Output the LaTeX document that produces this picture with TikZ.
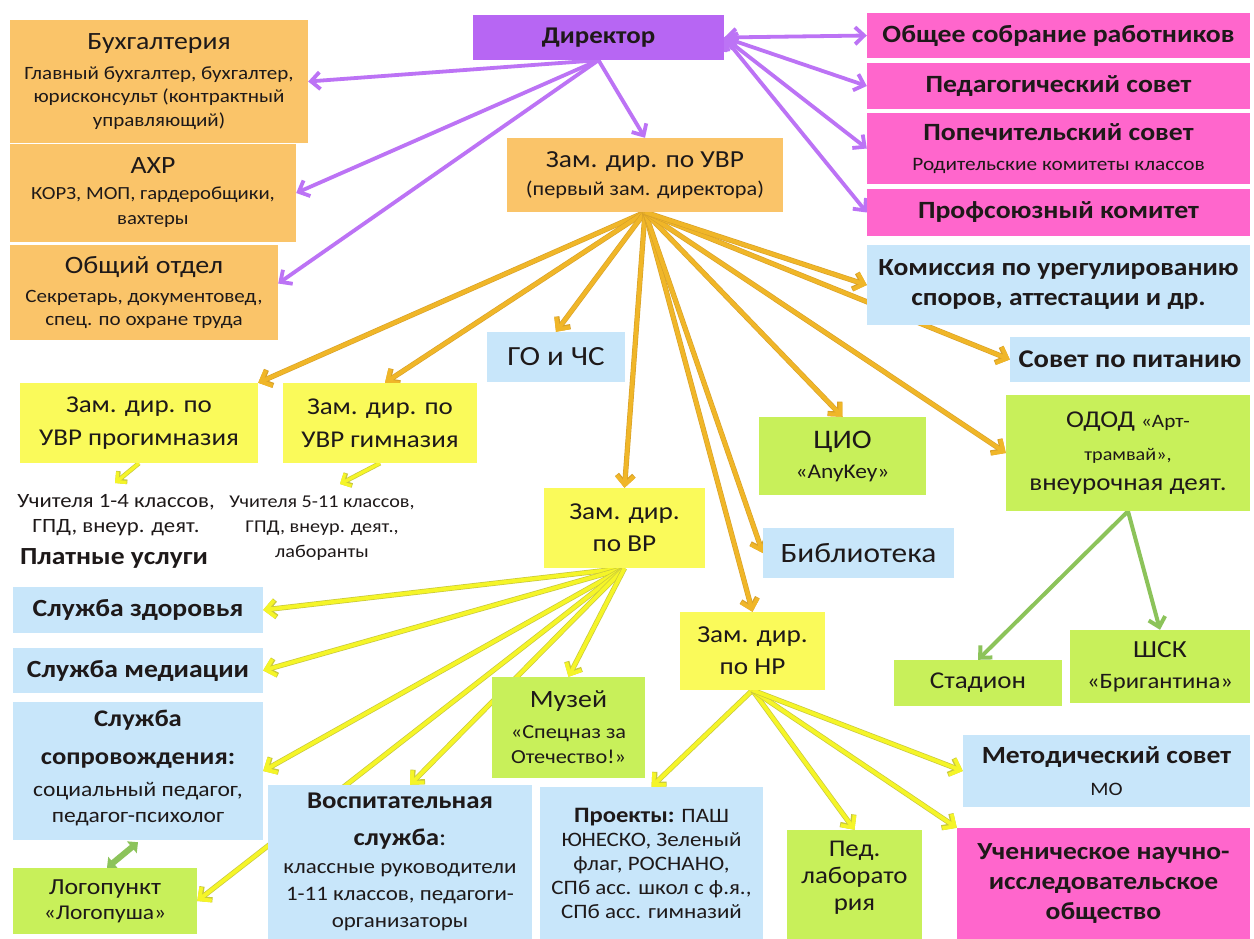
\documentclass[tikz,border=0pt]{standalone}
\usepackage{fontspec}
\setmainfont{Carlito}[FakeStretch=1.12]
\usetikzlibrary{arrows.meta,calc}
\pgfdeclarelayer{bg}
\pgfsetlayers{bg,main}
\definecolor{cPur}{RGB}{183,102,243}
\definecolor{cPurA}{RGB}{188,115,245}
\definecolor{cOr}{RGB}{250,196,105}
\definecolor{cOrA}{RGB}{240,182,40}
\definecolor{cOrE}{RGB}{215,160,40}
\definecolor{cPink}{RGB}{255,102,204}
\definecolor{cBlue}{RGB}{200,230,250}
\definecolor{cYel}{RGB}{250,250,90}
\definecolor{cYelA}{RGB}{245,245,40}
\definecolor{cYelE}{RGB}{200,200,60}
\definecolor{cGrn}{RGB}{200,240,90}
\definecolor{cGrnA}{RGB}{140,195,90}
\definecolor{cTxt}{RGB}{30,25,25}
\newcommand\fz[2]{\fontsize{#1}{#2}\selectfont\lineskiplimit=-100pt\lineskip=0pt\relax}
\begin{document}
\begin{tikzpicture}[x=1pt,y=-1pt,
  bx/.style={rectangle, inner sep=0pt, align=center, text=cTxt},
  txt/.style={inner sep=0pt, align=center, text=cTxt},
  tipA/.tip={Straight Barb[length=9pt,width=17pt]},
  pa/.style={draw=cPurA, line width=3.8pt, -tipA},
  pd/.style={draw=cPurA, line width=3.8pt, tipA-tipA},
  oa/.style={preaction={draw=cOrE, line width=5.2pt}, draw=cOrA, line width=4pt, -tipA},
  ya/.style={preaction={draw=cYelE, line width=5.2pt}, draw=cYelA, line width=3.8pt, -tipA},
  ys/.style={preaction={draw=cYelE, line width=4.6pt}, draw=cYelA, line width=3.2pt, -{Straight Barb[length=7pt,width=14pt]}},
  ga/.style={draw=cGrnA, line width=4pt, -tipA},
  gd/.style={draw=cGrnA, line width=6pt, {Triangle[length=8pt,width=15pt]}-{Triangle[length=8pt,width=15pt]}}
]
\useasboundingbox (0,0) rectangle (1254,939);

% top
\node[bx, fill=cPur, minimum width=251pt, minimum height=45pt, font=\bfseries\fz{24}{28}] (dir) at (598.5,37.5) {Директор};
\node[bx, fill=cOr, minimum width=298pt, minimum height=123pt, font=\fz{18.8}{23.5}] (buh) at (159,81.5)
  {\fz{24.8}{28}Бухгалтерия\\[6pt]Главный бухгалтер, бухгалтер,\\юрисконсульт (контрактный\\управляющий)};
\node[bx, fill=cOr, minimum width=286pt, minimum height=98pt, font=\fz{18.5}{25}] (ahr) at (153,193)
  {\fz{24.8}{28}АХР\\[1pt]КОРЗ, МОП, гардеробщики,\\вахтеры};
\node[bx, fill=cOr, minimum width=268pt, minimum height=95pt, font=\fz{18.8}{23}] (obsh) at (144,292.5)
  {\fz{25}{28}Общий отдел\\[6pt]Секретарь, документовед,\\спец. по охране труда};
\node[bx, fill=cOr, minimum width=276pt, minimum height=74pt, font=\fz{19.9}{25}] (uvr) at (645,175)
  {\fz{24.5}{28}Зам. дир. по УВР\\[3pt](первый зам. директора)};

% right pink
\node[bx, fill=cPink, minimum width=383pt, minimum height=45pt, font=\bfseries\fz{24.8}{30}] (sobr) at (1058.5,35.5) {Общее собрание работников};
\node[bx, fill=cPink, minimum width=383pt, minimum height=46pt, font=\bfseries\fz{24.8}{30}] (ped) at (1058.5,86) {Педагогический совет};
\node[bx, fill=cPink, minimum width=383pt, minimum height=71pt, font=\fz{19}{30}] (pop) at (1058.5,148.5)
  {\bfseries\fz{24.8}{30}Попечительский совет\\Родительские комитеты классов};
\node[bx, fill=cPink, minimum width=383pt, minimum height=47pt, font=\bfseries\fz{24.8}{30}] (prof) at (1058.5,212.5) {Профсоюзный комитет};
\node[bx, fill=cBlue, minimum width=383pt, minimum height=80pt, font=\bfseries\fz{24.6}{30}] (kom) at (1058.5,285) {Комиссия по урегулированию\\споров, аттестации и др.};
\node[bx, fill=cBlue, minimum width=240pt, minimum height=45pt, font=\bfseries\fz{25.5}{30}] (pit) at (1130,359.5) {Совет по питанию};
\node[bx, fill=cGrn, minimum width=244pt, minimum height=116pt, font=\fz{18}{30}] (odod) at (1128,453)
  {\fz{24.1}{28}ОДОД {\fz{19}{28}«Арт-}\\[3pt]трамвай»,\\\fz{24.1}{28}внеурочная деят.};

% middle
\node[bx, fill=cBlue, minimum width=138pt, minimum height=50pt, font=\fz{27.7}{30}] (go) at (556,357) {ГО и ЧС};
\node[bx, fill=cYel, minimum width=238pt, minimum height=80pt, font=\fz{24.1}{33}] (prog) at (139,423) {Зам. дир. по\\УВР прогимназия};
\node[bx, fill=cYel, minimum width=194pt, minimum height=80pt, font=\fz{24.1}{33}] (gim) at (380,423) {Зам. дир. по\\УВР гимназия};
\node[txt, font=\fz{20.3}{25}] (t1) at (116,515.5) {Учителя 1-4 классов,\\ГПД, внеур. деят.};
\node[txt, font=\bfseries\fz{24.6}{28}] (pl) at (114,558) {Платные услуги};
\node[txt, font=\fz{18}{25}] (t2) at (322,528) {Учителя 5-11 классов,\\ГПД, внеур. деят.,\\лаборанты};
\coordinate (a1) at (115,483);
\coordinate (a2) at (340,484);
\node[bx, fill=cYel, minimum width=161pt, minimum height=80pt, font=\fz{24.3}{32}] (vr) at (624.5,528) {Зам. дир.\\по ВР};
\node[bx, fill=cGrn, minimum width=167pt, minimum height=78pt, font=\fz{20.9}{30}] (cio) at (842.5,456) {\fz{26.8}{30}ЦИО\\«AnyKey»};
\node[bx, fill=cBlue, minimum width=191pt, minimum height=50pt, font=\fz{28}{30}] (bib) at (858.5,553) {Библиотека};
\node[bx, fill=cYel, minimum width=145pt, minimum height=78pt, font=\fz{24.3}{32}] (nr) at (752.5,651) {Зам. дир.\\по НР};
\node[bx, fill=cGrn, minimum width=168pt, minimum height=46pt, font=\fz{24.1}{30}] (stad) at (978,683) {Стадион};
\node[bx, fill=cGrn, minimum width=180pt, minimum height=73pt, font=\fz{22}{31}] (shsk) at (1160,666.5) {\fz{24.6}{28}ШСК\\«Бригантина»};

% lower left
\node[bx, fill=cBlue, minimum width=250pt, minimum height=46pt, font=\bfseries\fz{24.7}{28}] (zdor) at (138,610) {Служба здоровья};
\node[bx, fill=cBlue, minimum width=250pt, minimum height=45pt, font=\bfseries\fz{24.7}{28}] (med) at (138,670.5) {Служба медиации};
\node[bx, fill=cBlue, minimum width=250pt, minimum height=138pt, font=\fz{21}{26}] (sopr) at (138,771)
  {\mbox{}\\[-16pt]\bfseries\fz{23.8}{28}Служба\\[12pt]\bfseries\fz{23.8}{28}сопровождения:\\[6pt]социальный педагог,\\педагог-психолог};
\node[bx, fill=cGrn, minimum width=184pt, minimum height=66pt, font=\fz{21}{25}] (logo) at (105,901) {\fz{23}{28}Логопункт\\«Логопуша»};
\node[bx, fill=cBlue, minimum width=264pt, minimum height=154pt, font=\fz{20.5}{27}] (vosp) at (400,862)
  {\bfseries\fz{24}{28}Воспитательная\\[10pt]\bfseries\fz{24}{28}служба\mdseries:\\[1pt]классные руководители\\1-11 классов, педагоги-\\организаторы};
\node[bx, fill=cGrn, minimum width=153pt, minimum height=101pt, font=\fz{19.9}{25}] (muz) at (568.5,727.5) {\fz{24.9}{28}Музей\\[6pt]«Спецназ за\\Отечество!»};
\node[bx, fill=cBlue, minimum width=223pt, minimum height=152pt, font=\fz{20.5}{24}] (proj) at (651.5,863)
  {{\bfseries\fz{22}{24}Проекты:} ПАШ\\ЮНЕСКО, Зеленый\\флаг, РОСНАНО,\\СПб асс. школ с ф.я.,\\СПб асс. гимназий};
\node[bx, fill=cGrn, minimum width=135pt, minimum height=109pt, font=\fz{24}{27}] (lab) at (854.5,884.5) {Пед.\\лаборато\\рия\\[-10pt]\mbox{}};
\node[bx, fill=cBlue, minimum width=287pt, minimum height=72pt, font=\fz{19}{32}] (met) at (1106.5,771) {\bfseries\fz{24.7}{28}Методический совет\\МО};
\node[bx, fill=cPink, minimum width=293pt, minimum height=111pt, font=\bfseries\fz{24.6}{30}] (uch) at (1103.5,883.5) {Ученическое научно-\\исследовательское\\общество};

\begin{pgfonlayer}{bg}
\fill[white] (0,0) rectangle (1254,939);
% purple
\draw[pa] (dir.south) -- (buh.east);
\draw[pa] (dir.south) -- (ahr.east);
\draw[pa] (dir.south) -- ([yshift=9pt]obsh.east);
\draw[pa] (dir.south) -- (uvr.north);
\draw[pd] (dir.east) -- (sobr.west);
\draw[pd] (dir.east) -- (ped.west);
\draw[pd] (dir.east) -- (pop.west);
\draw[pd] (dir.east) -- (prof.west);
% orange
\draw[oa] (uvr.south) -- (prog.north east);
\draw[oa] (uvr.south) -- ([xshift=5pt]gim.north);
\draw[oa] (uvr.south) -- (go.north);
\draw[oa] (uvr.south) -- (vr.north);
\draw[oa] (uvr.south) -- (nr.north);
\draw[oa] (uvr.south) -- (bib.west);
\draw[oa] (uvr.south) -- (cio.north);
\draw[oa] (uvr.south) -- (odod.west);
\draw[oa] (uvr.south) -- (pit.west);
\draw[oa] (uvr.south) -- (kom.west);
% yellow
\draw[ys] (prog.south) -- (a1);
\draw[ys] (gim.south) -- (a2);
\draw[ya] (vr.south) -- (zdor.east);
\draw[ya] (vr.south) -- (med.east);
\draw[ya] (vr.south) -- (sopr.east);
\draw[ya] (vr.south) -- (logo.east);
\draw[ya] (vr.south) -- ([xshift=10pt]vosp.north);
\draw[ya] (vr.south) -- (muz.north);
\draw[ya] (nr.south) -- (proj.north);
\draw[ya] (nr.south) -- (lab.north);
\draw[ya] (nr.south) -- (uch.north west);
\draw[ya] (nr.south) -- (met.west);
% green
\draw[ga] (odod.south) -- (stad.north);
\draw[ga] (odod.south) -- (shsk.north);
\draw[gd] ([xshift=2pt]logo.north) -- ([yshift=-2pt]sopr.south);
\end{pgfonlayer}
\end{tikzpicture}
\end{document}
